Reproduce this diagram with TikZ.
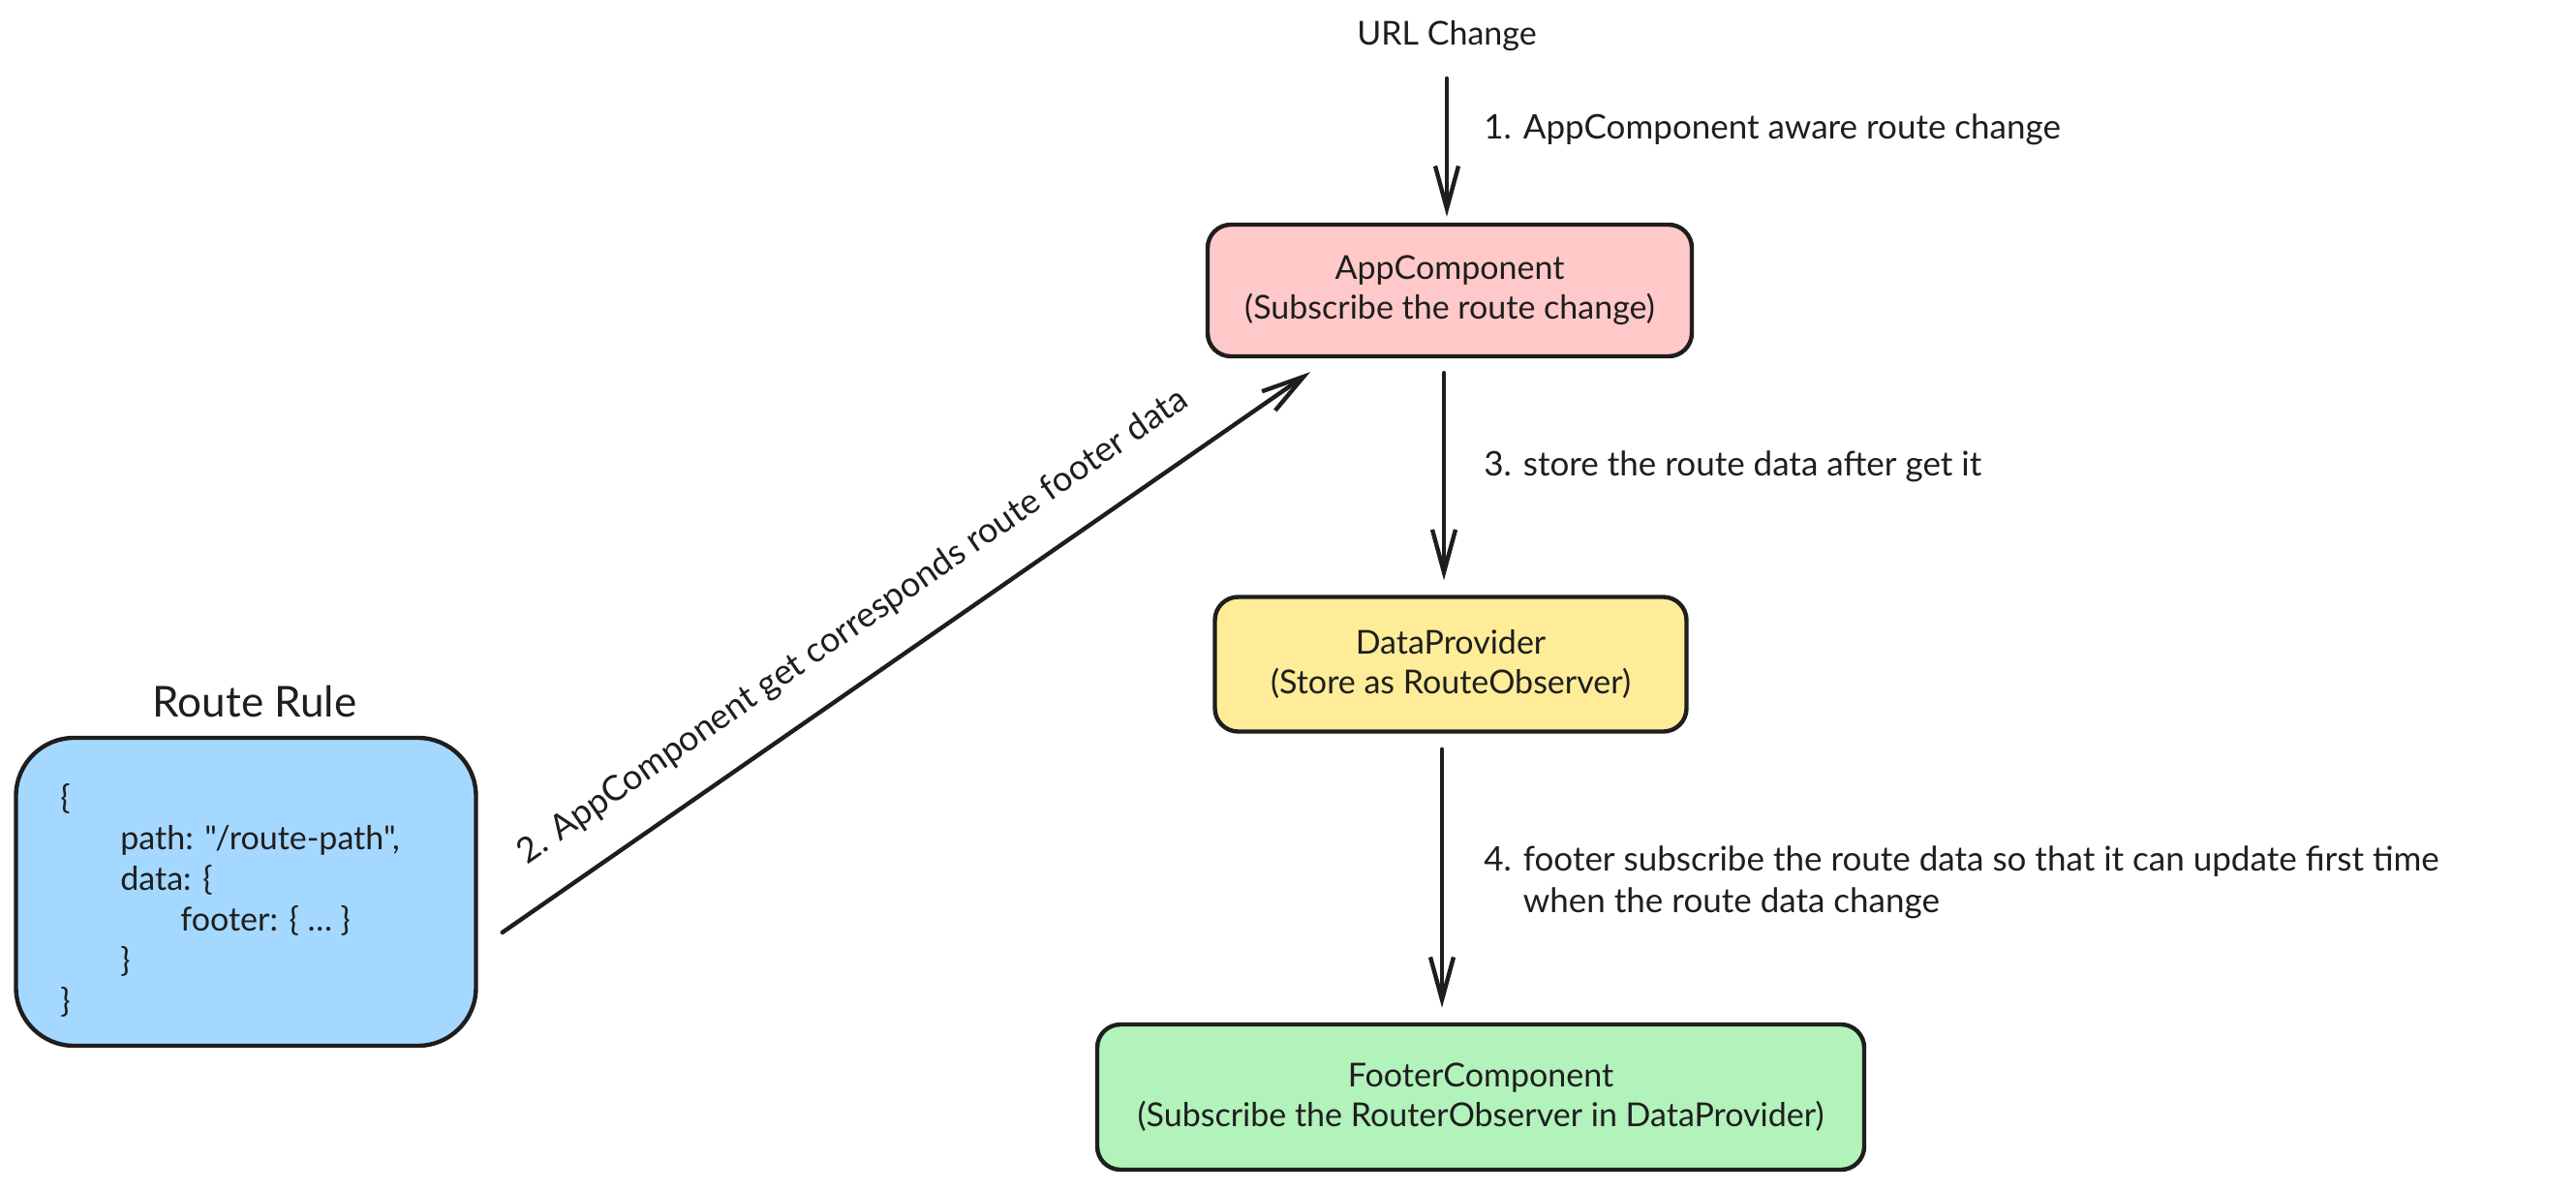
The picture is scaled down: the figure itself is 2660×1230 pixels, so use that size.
\documentclass[tikz,border=0pt]{standalone}
\usepackage{fontspec}
\setmainfont{Lato}
\newfontfamily\codefont{Lato}
\usetikzlibrary{arrows.meta}
\definecolor{ink}{HTML}{1E1E1E}
\definecolor{pinkfill}{HTML}{FFC9C9}
\definecolor{yellowfill}{HTML}{FFEC99}
\definecolor{greenfill}{HTML}{B2F2BB}
\definecolor{bluefill}{HTML}{A5D8FF}
\begin{document}
\begin{tikzpicture}[x=0.5pt,y=-0.5pt,
  every node/.style={text=ink},
  box/.style={draw=ink, line width=2.2pt, rounded corners=12pt, align=center,
    font=\fontsize{17}{20.5}\selectfont, inner sep=0pt},
  conn/.style={draw=ink, line width=2.2pt, line cap=round,
    -{Straight Barb[length=22pt,width=12pt,line width=2.2pt]}},
  lbl/.style={font=\fontsize{17.5}{21.5}\selectfont, anchor=west, align=left, inner sep=0pt}]
\useasboundingbox[fill=white] (0,0) rectangle (2660,1230);

% boxes
\node[box, fill=pinkfill, minimum width=250pt, minimum height=68pt] (app) at (1497,300)
  {AppComponent\\(Subscribe the route change)};
\node[box, fill=yellowfill, minimum width=243.5pt, minimum height=69.5pt] (dp) at (1498,686)
  {DataProvider\\(Store as RouteObserver)};
\node[box, fill=greenfill, minimum width=396pt, minimum height=75pt] (foot) at (1529,1133)
  {FooterComponent\\(Subscribe the RouterObserver in DataProvider)};
\node[box, fill=bluefill, rounded corners=30pt, minimum width=237.5pt, minimum height=159pt] (rr) at (254,921) {};
\node[font=\codefont\fontsize{17}{21}\selectfont, anchor=west, align=left, inner sep=0pt] (code) at (62,930)
  {\{\\
   \hspace{31pt}path: "/route-path",\\
   \hspace{31pt}data: \{\\
   \hspace{62pt}footer: \{ \dots\ \}\\
   \hspace{31pt}\}\\
   \}};
\node[font=\fontsize{22}{26}\selectfont, inner sep=0pt] (rrtitle) at (263,724) {Route Rule};

% texts
\node[font=\fontsize{17}{21}\selectfont, inner sep=0pt] (url) at (1494,37) {URL Change};

% connectors
\draw[conn] ([yshift=-14pt]url.south) -- ([yshift=3pt]url.south |- app.north);
\draw[conn] ([yshift=-7.5pt]app.south -| 1491,0) -- ([yshift=7.5pt]dp.north -| 1491,0);
\draw[conn] ([yshift=-8pt]dp.south -| 1489,0) -- ([yshift=7.5pt]foot.north -| 1489,0);
\coordinate (a2s) at ([xshift=12.5pt,yshift=-21pt]rr.east);
\coordinate (a2e) at ([xshift=-72pt,yshift=-7pt]app.south);
\draw[conn] (a2s) -- node[pos=0.47, sloped, above=17pt, font=\fontsize{18}{21}\selectfont, inner sep=0pt] (l2)
  {2. AppComponent get corresponds route footer data} (a2e);

% labels
\node[lbl] (l1) at (1532,134) {1. AppComponent aware route change};
\node[lbl] (l3) at (1532,482) {3. store the route data after get it};
\node[lbl] (l4) at (1532,911) {4. footer subscribe the route data so that it can update first time\\
  \phantom{4. }when the route data change};
\end{tikzpicture}
\end{document}
